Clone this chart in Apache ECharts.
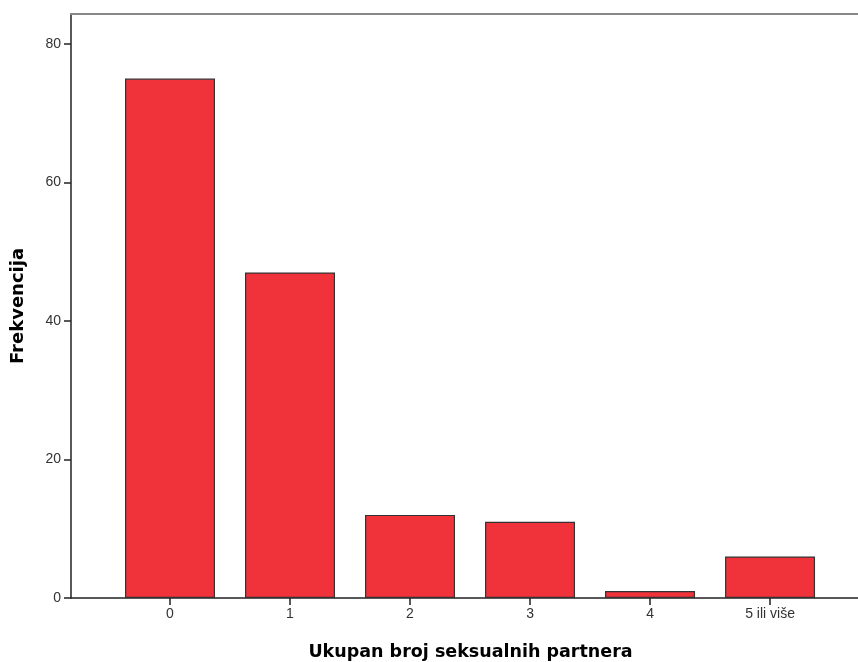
<!DOCTYPE html>
<html><head><meta charset="utf-8">
<script src="https://cdn.jsdelivr.net/npm/echarts@6/dist/echarts.min.js"></script>
<style>html,body{margin:0;padding:0;background:#fff}#c{width:858px;height:662px}</style>
</head><body><div id="c"></div>
<script>
const categories = ['0', '1', '2', '3', '4', '5 ili više'];
const frequencies = [75, 47, 12, 11, 1, 6];
const yTicks = [0, 20, 40, 60, 80];
const xTitle = 'Ukupan broj seksualnih partnera';
const yTitle = 'Frekvencija';

const idx = categories.map((c, i) => i);
const chart = echarts.init(document.getElementById('c'));
chart.setOption({
  animation: false,
  backgroundColor: '#fff',
  grid: { left: 71, right: 0, top: 14, bottom: 64, outerBoundsMode: 'none', containLabel: false },
  xAxis: [{
    type: 'value', min: -0.825, max: 5.733,
    splitLine: { show: false },
    axisLine: { show: true, onZero: false, lineStyle: { color: '#222', width: 1.5 } },
    axisTick: { show: true, customValues: idx, length: 7, lineStyle: { color: '#222', width: 1.5 } },
    axisLabel: { customValues: idx, formatter: v => categories[Math.round(v)], color: '#333',
      fontFamily: 'Liberation Sans', fontSize: 14, margin: 9 },
    name: xTitle, nameLocation: 'middle', nameGap: 45,
    nameTextStyle: { fontFamily: 'DejaVu Sans', fontWeight: 'bold', fontSize: 17.5, color: '#000', padding: [0, 0, 0, 12] }
  }, {
    type: 'value', position: 'top', min: -0.825, max: 5.733,
    splitLine: { show: false }, axisTick: { show: false }, axisLabel: { show: false },
    axisLine: { show: true, onZero: false, lineStyle: { color: '#888', width: 2 } }
  }],
  yAxis: {
    type: 'value', min: 0, max: 84.33,
    splitLine: { show: false },
    axisLine: { show: true, onZero: false, lineStyle: { color: '#222', width: 1.5 } },
    axisTick: { show: true, customValues: yTicks, length: 7, lineStyle: { color: '#222', width: 1.5 } },
    axisLabel: { customValues: yTicks, color: '#333', fontFamily: 'Liberation Sans', fontSize: 14, margin: 10 },
    name: yTitle, nameLocation: 'middle', nameGap: 44, nameRotate: 90,
    nameTextStyle: { fontFamily: 'DejaVu Sans', fontWeight: 'bold', fontSize: 18, color: '#000' }
  },
  series: [{
    type: 'bar', xAxisIndex: 0, barWidth: 90,
    data: frequencies.map((v, i) => [i, v]),
    itemStyle: { color: '#f0323b', borderColor: '#333', borderWidth: 1.2 }
  }]
});
</script></body></html>
